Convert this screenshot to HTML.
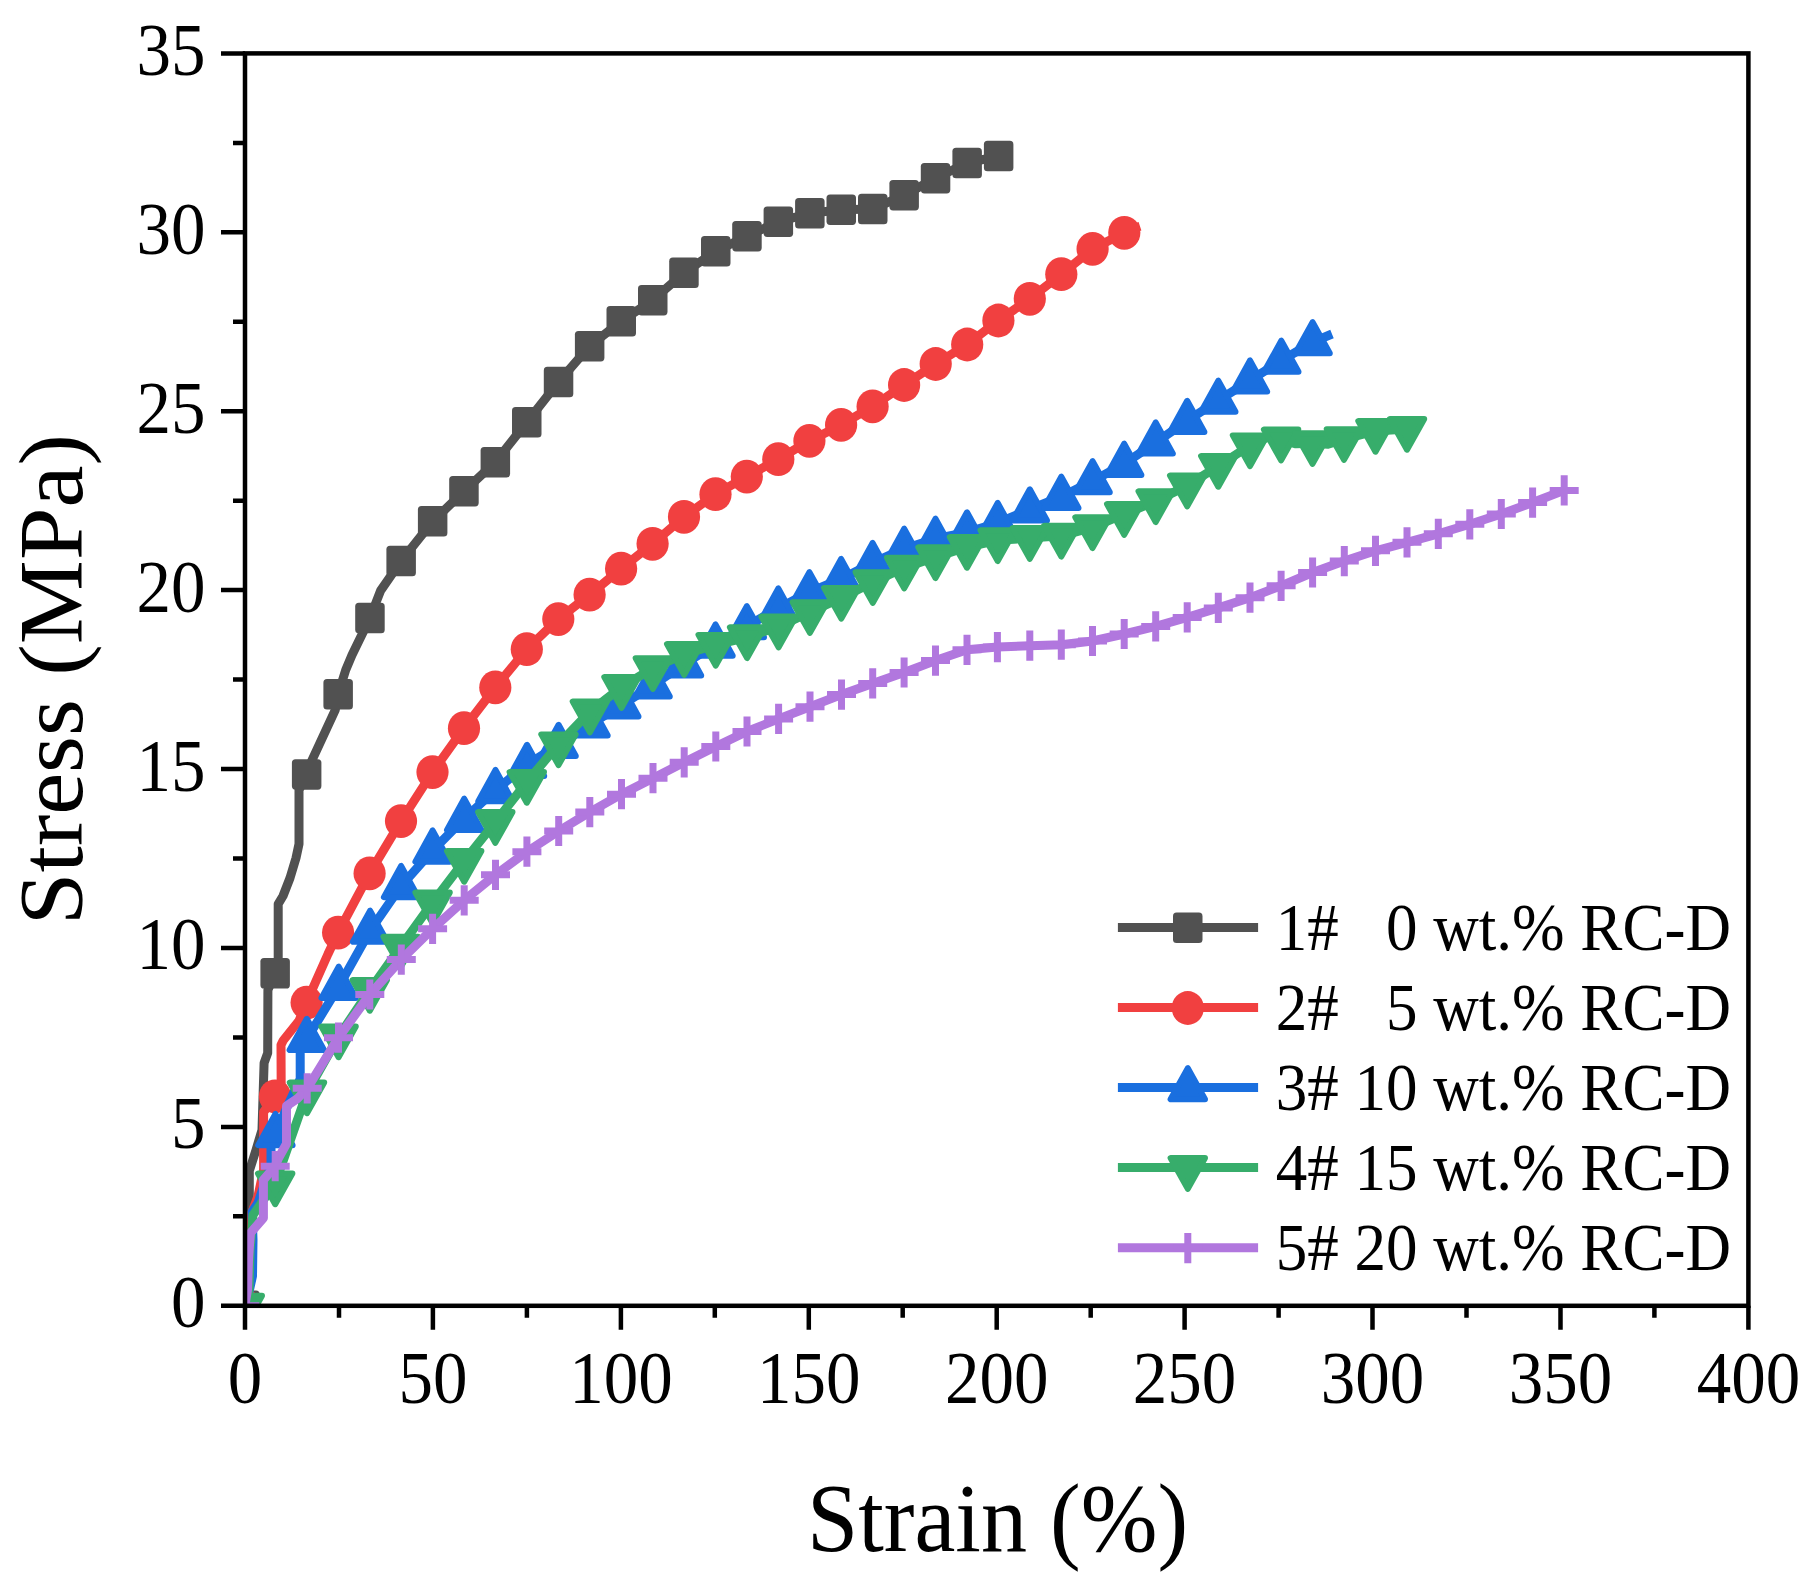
<!DOCTYPE html><html><head><meta charset="utf-8"><title>Stress-strain curves</title><style>html,body{margin:0;padding:0;background:#fff}svg{display:block}text{font-family:"Liberation Serif","Times New Roman",serif;fill:#000}</style></head><body>
<svg width="1815" height="1590" viewBox="0 0 1815 1590">
<rect width="1815" height="1590" fill="#fff"/>
<defs><clipPath id="pc"><rect x="245.0" y="53.4" width="1503.4" height="1252.4"/></clipPath></defs>
<g clip-path="url(#pc)">
<polyline points="244.8,1305.8 246.5,1290.0 249.3,1215.0 249.3,1171.0 256.0,1150.0 262.0,1130.0 264.1,1063.0 267.7,1053.0 267.9,990.0 275.2,973.2 278.2,958.0 278.2,904.0 283.0,896.0 290.0,878.0 296.0,858.0 299.0,844.0 299.0,790.0 306.6,774.5 311.7,760.8 335.3,709.8 338.1,694.4 345.7,670.0 352.0,655.0 370.0,618.0 380.6,590.6 401.1,561.0 432.7,521.4 464.0,491.2 495.3,462.1 526.7,422.4 558.5,382.0 589.6,346.1 621.2,321.3 652.7,300.2 684.0,272.8 715.7,251.3 747.0,236.2 778.4,221.7 809.9,213.3 841.3,209.7 872.7,209.1 904.1,195.2 935.5,178.2 967.1,163.0 998.6,156.1" fill="none" stroke="#515151" stroke-width="9.0" stroke-linejoin="round" stroke-linecap="butt"/>
<rect x="230.1" y="1290.5" width="29.5" height="30.5" rx="3.6" fill="#515151"/><rect x="260.4" y="958.0" width="29.5" height="30.5" rx="3.6" fill="#515151"/><rect x="291.9" y="759.2" width="29.5" height="30.5" rx="3.6" fill="#515151"/><rect x="323.4" y="679.1" width="29.5" height="30.5" rx="3.6" fill="#515151"/><rect x="355.2" y="602.8" width="29.5" height="30.5" rx="3.6" fill="#515151"/><rect x="386.4" y="545.8" width="29.5" height="30.5" rx="3.6" fill="#515151"/><rect x="417.9" y="506.1" width="29.5" height="30.5" rx="3.6" fill="#515151"/><rect x="449.2" y="475.9" width="29.5" height="30.5" rx="3.6" fill="#515151"/><rect x="480.6" y="446.9" width="29.5" height="30.5" rx="3.6" fill="#515151"/><rect x="512.0" y="407.1" width="29.5" height="30.5" rx="3.6" fill="#515151"/><rect x="543.8" y="366.8" width="29.5" height="30.5" rx="3.6" fill="#515151"/><rect x="574.9" y="330.9" width="29.5" height="30.5" rx="3.6" fill="#515151"/><rect x="606.5" y="306.1" width="29.5" height="30.5" rx="3.6" fill="#515151"/><rect x="638.0" y="284.9" width="29.5" height="30.5" rx="3.6" fill="#515151"/><rect x="669.2" y="257.6" width="29.5" height="30.5" rx="3.6" fill="#515151"/><rect x="701.0" y="236.1" width="29.5" height="30.5" rx="3.6" fill="#515151"/><rect x="732.2" y="220.9" width="29.5" height="30.5" rx="3.6" fill="#515151"/><rect x="763.6" y="206.4" width="29.5" height="30.5" rx="3.6" fill="#515151"/><rect x="795.1" y="198.1" width="29.5" height="30.5" rx="3.6" fill="#515151"/><rect x="826.5" y="194.4" width="29.5" height="30.5" rx="3.6" fill="#515151"/><rect x="858.0" y="193.8" width="29.5" height="30.5" rx="3.6" fill="#515151"/><rect x="889.4" y="179.9" width="29.5" height="30.5" rx="3.6" fill="#515151"/><rect x="920.8" y="162.9" width="29.5" height="30.5" rx="3.6" fill="#515151"/><rect x="952.4" y="147.8" width="29.5" height="30.5" rx="3.6" fill="#515151"/><rect x="983.9" y="140.8" width="29.5" height="30.5" rx="3.6" fill="#515151"/>
<polyline points="244.8,1305.8 248.0,1290.0 247.0,1230.0 252.0,1212.0 258.0,1196.0 263.6,1170.0 263.6,1112.0 275.0,1096.3 281.2,1090.0 281.0,1045.0 283.2,1040.5 289.0,1033.3 299.0,1020.8 306.6,1002.6 316.0,981.0 328.0,954.0 338.1,932.6 369.6,873.4 401.0,821.1 432.5,772.1 464.0,728.2 495.3,687.4 526.8,649.2 558.3,619.1 589.6,594.7 621.1,568.7 652.6,543.8 684.0,516.8 715.5,494.2 746.8,476.6 778.3,459.2 809.4,440.9 841.1,424.9 872.6,406.4 904.1,385.0 935.7,364.0 967.2,344.5 998.4,320.5 1029.8,298.8 1061.3,274.2 1092.6,248.9 1124.3,232.8 1133.0,228.5 1140.0,226.2" fill="none" stroke="#F14040" stroke-width="9.0" stroke-linejoin="round" stroke-linecap="butt"/>
<ellipse cx="244.8" cy="1305.8" rx="16.1" ry="16.9" fill="#F14040"/><ellipse cx="275.0" cy="1096.3" rx="16.1" ry="16.9" fill="#F14040"/><ellipse cx="306.6" cy="1002.6" rx="16.1" ry="16.9" fill="#F14040"/><ellipse cx="338.1" cy="932.6" rx="16.1" ry="16.9" fill="#F14040"/><ellipse cx="369.6" cy="873.4" rx="16.1" ry="16.9" fill="#F14040"/><ellipse cx="401.0" cy="821.1" rx="16.1" ry="16.9" fill="#F14040"/><ellipse cx="432.5" cy="772.1" rx="16.1" ry="16.9" fill="#F14040"/><ellipse cx="464.0" cy="728.2" rx="16.1" ry="16.9" fill="#F14040"/><ellipse cx="495.3" cy="687.4" rx="16.1" ry="16.9" fill="#F14040"/><ellipse cx="526.8" cy="649.2" rx="16.1" ry="16.9" fill="#F14040"/><ellipse cx="558.3" cy="619.1" rx="16.1" ry="16.9" fill="#F14040"/><ellipse cx="589.6" cy="594.7" rx="16.1" ry="16.9" fill="#F14040"/><ellipse cx="621.1" cy="568.7" rx="16.1" ry="16.9" fill="#F14040"/><ellipse cx="652.6" cy="543.8" rx="16.1" ry="16.9" fill="#F14040"/><ellipse cx="684.0" cy="516.8" rx="16.1" ry="16.9" fill="#F14040"/><ellipse cx="715.5" cy="494.2" rx="16.1" ry="16.9" fill="#F14040"/><ellipse cx="746.8" cy="476.6" rx="16.1" ry="16.9" fill="#F14040"/><ellipse cx="778.3" cy="459.2" rx="16.1" ry="16.9" fill="#F14040"/><ellipse cx="809.4" cy="440.9" rx="16.1" ry="16.9" fill="#F14040"/><ellipse cx="841.1" cy="424.9" rx="16.1" ry="16.9" fill="#F14040"/><ellipse cx="872.6" cy="406.4" rx="16.1" ry="16.9" fill="#F14040"/><ellipse cx="904.1" cy="385.0" rx="16.1" ry="16.9" fill="#F14040"/><ellipse cx="935.7" cy="364.0" rx="16.1" ry="16.9" fill="#F14040"/><ellipse cx="967.2" cy="344.5" rx="16.1" ry="16.9" fill="#F14040"/><ellipse cx="998.4" cy="320.5" rx="16.1" ry="16.9" fill="#F14040"/><ellipse cx="1029.8" cy="298.8" rx="16.1" ry="16.9" fill="#F14040"/><ellipse cx="1061.3" cy="274.2" rx="16.1" ry="16.9" fill="#F14040"/><ellipse cx="1092.6" cy="248.9" rx="16.1" ry="16.9" fill="#F14040"/><ellipse cx="1124.3" cy="232.8" rx="16.1" ry="16.9" fill="#F14040"/>
<polyline points="244.8,1305.8 249.0,1292.0 252.5,1276.0 253.0,1240.0 252.0,1212.0 258.0,1203.0 271.0,1165.0 271.0,1147.0 275.4,1134.0 288.0,1105.0 300.2,1079.0 300.2,1052.0 306.8,1038.8 338.7,986.7 370.1,930.6 401.1,886.0 432.6,850.5 464.2,818.7 495.5,790.0 527.0,764.8 558.6,744.8 590.5,724.2 621.3,705.3 652.6,685.3 684.0,664.3 715.5,644.5 746.8,626.1 778.3,608.5 809.4,592.1 841.1,578.9 872.6,562.9 904.2,548.7 935.5,538.7 967.0,532.3 997.7,523.0 1029.8,509.3 1061.3,496.7 1092.6,481.1 1124.2,463.7 1155.7,442.4 1187.2,420.8 1218.3,400.6 1250.0,380.4 1281.3,360.6 1312.6,342.1 1332.0,334.0" fill="none" stroke="#1A6FDF" stroke-width="9.0" stroke-linejoin="round" stroke-linecap="butt"/>
<polygon points="244.8,1285.8 227.6,1317.0 262.0,1317.0" fill="#1A6FDF" stroke="#1A6FDF" stroke-width="6" stroke-linejoin="round"/><polygon points="275.4,1114.0 258.2,1145.2 292.6,1145.2" fill="#1A6FDF" stroke="#1A6FDF" stroke-width="6" stroke-linejoin="round"/><polygon points="306.8,1018.8 289.6,1050.0 324.0,1050.0" fill="#1A6FDF" stroke="#1A6FDF" stroke-width="6" stroke-linejoin="round"/><polygon points="338.7,966.7 321.5,997.9 355.9,997.9" fill="#1A6FDF" stroke="#1A6FDF" stroke-width="6" stroke-linejoin="round"/><polygon points="370.1,910.6 352.9,941.8 387.3,941.8" fill="#1A6FDF" stroke="#1A6FDF" stroke-width="6" stroke-linejoin="round"/><polygon points="401.1,866.0 383.9,897.2 418.3,897.2" fill="#1A6FDF" stroke="#1A6FDF" stroke-width="6" stroke-linejoin="round"/><polygon points="432.6,830.5 415.4,861.7 449.8,861.7" fill="#1A6FDF" stroke="#1A6FDF" stroke-width="6" stroke-linejoin="round"/><polygon points="464.2,798.7 447.0,829.9 481.4,829.9" fill="#1A6FDF" stroke="#1A6FDF" stroke-width="6" stroke-linejoin="round"/><polygon points="495.5,770.0 478.3,801.2 512.7,801.2" fill="#1A6FDF" stroke="#1A6FDF" stroke-width="6" stroke-linejoin="round"/><polygon points="527.0,744.8 509.8,776.0 544.2,776.0" fill="#1A6FDF" stroke="#1A6FDF" stroke-width="6" stroke-linejoin="round"/><polygon points="558.6,724.8 541.4,756.0 575.8,756.0" fill="#1A6FDF" stroke="#1A6FDF" stroke-width="6" stroke-linejoin="round"/><polygon points="590.5,704.2 573.3,735.4 607.7,735.4" fill="#1A6FDF" stroke="#1A6FDF" stroke-width="6" stroke-linejoin="round"/><polygon points="621.3,685.3 604.1,716.5 638.5,716.5" fill="#1A6FDF" stroke="#1A6FDF" stroke-width="6" stroke-linejoin="round"/><polygon points="652.6,665.3 635.4,696.5 669.8,696.5" fill="#1A6FDF" stroke="#1A6FDF" stroke-width="6" stroke-linejoin="round"/><polygon points="684.0,644.3 666.8,675.5 701.2,675.5" fill="#1A6FDF" stroke="#1A6FDF" stroke-width="6" stroke-linejoin="round"/><polygon points="715.5,624.5 698.3,655.7 732.7,655.7" fill="#1A6FDF" stroke="#1A6FDF" stroke-width="6" stroke-linejoin="round"/><polygon points="746.8,606.1 729.6,637.3 764.0,637.3" fill="#1A6FDF" stroke="#1A6FDF" stroke-width="6" stroke-linejoin="round"/><polygon points="778.3,588.5 761.1,619.7 795.5,619.7" fill="#1A6FDF" stroke="#1A6FDF" stroke-width="6" stroke-linejoin="round"/><polygon points="809.4,572.1 792.2,603.3 826.6,603.3" fill="#1A6FDF" stroke="#1A6FDF" stroke-width="6" stroke-linejoin="round"/><polygon points="841.1,558.9 823.9,590.1 858.3,590.1" fill="#1A6FDF" stroke="#1A6FDF" stroke-width="6" stroke-linejoin="round"/><polygon points="872.6,542.9 855.4,574.1 889.8,574.1" fill="#1A6FDF" stroke="#1A6FDF" stroke-width="6" stroke-linejoin="round"/><polygon points="904.2,528.7 887.0,559.9 921.4,559.9" fill="#1A6FDF" stroke="#1A6FDF" stroke-width="6" stroke-linejoin="round"/><polygon points="935.5,518.7 918.3,549.9 952.7,549.9" fill="#1A6FDF" stroke="#1A6FDF" stroke-width="6" stroke-linejoin="round"/><polygon points="967.0,512.3 949.8,543.5 984.2,543.5" fill="#1A6FDF" stroke="#1A6FDF" stroke-width="6" stroke-linejoin="round"/><polygon points="997.7,503.0 980.5,534.2 1014.9,534.2" fill="#1A6FDF" stroke="#1A6FDF" stroke-width="6" stroke-linejoin="round"/><polygon points="1029.8,489.3 1012.6,520.5 1047.0,520.5" fill="#1A6FDF" stroke="#1A6FDF" stroke-width="6" stroke-linejoin="round"/><polygon points="1061.3,476.7 1044.1,507.9 1078.5,507.9" fill="#1A6FDF" stroke="#1A6FDF" stroke-width="6" stroke-linejoin="round"/><polygon points="1092.6,461.1 1075.4,492.3 1109.8,492.3" fill="#1A6FDF" stroke="#1A6FDF" stroke-width="6" stroke-linejoin="round"/><polygon points="1124.2,443.7 1107.0,474.9 1141.4,474.9" fill="#1A6FDF" stroke="#1A6FDF" stroke-width="6" stroke-linejoin="round"/><polygon points="1155.7,422.4 1138.5,453.6 1172.9,453.6" fill="#1A6FDF" stroke="#1A6FDF" stroke-width="6" stroke-linejoin="round"/><polygon points="1187.2,400.8 1170.0,432.0 1204.4,432.0" fill="#1A6FDF" stroke="#1A6FDF" stroke-width="6" stroke-linejoin="round"/><polygon points="1218.3,380.6 1201.1,411.8 1235.5,411.8" fill="#1A6FDF" stroke="#1A6FDF" stroke-width="6" stroke-linejoin="round"/><polygon points="1250.0,360.4 1232.8,391.6 1267.2,391.6" fill="#1A6FDF" stroke="#1A6FDF" stroke-width="6" stroke-linejoin="round"/><polygon points="1281.3,340.6 1264.1,371.8 1298.5,371.8" fill="#1A6FDF" stroke="#1A6FDF" stroke-width="6" stroke-linejoin="round"/><polygon points="1312.6,322.1 1295.4,353.3 1329.8,353.3" fill="#1A6FDF" stroke="#1A6FDF" stroke-width="6" stroke-linejoin="round"/>
<polyline points="244.8,1305.8 249.0,1290.0 250.0,1250.0 253.0,1215.0 262.0,1202.0 275.2,1183.5 307.0,1092.5 338.6,1036.5 369.8,990.0 400.7,946.7 432.6,902.5 464.2,861.0 495.3,822.1 526.8,782.0 558.5,744.4 589.9,711.6 621.5,687.1 652.9,668.2 684.2,654.1 715.7,644.9 747.1,637.3 778.6,626.6 809.9,612.2 841.3,597.9 872.8,582.2 904.2,567.7 935.5,557.3 967.0,547.0 997.7,540.3 1029.8,538.1 1061.3,535.8 1092.5,527.3 1124.2,514.1 1155.7,501.3 1187.2,485.6 1218.3,466.0 1250.0,445.4 1267.0,437.5 1281.1,439.6 1296.0,443.8 1312.5,443.2 1328.0,444.2 1344.0,439.2 1375.5,431.0 1407.0,429.0" fill="none" stroke="#37AD6B" stroke-width="9.0" stroke-linejoin="round" stroke-linecap="butt"/>
<polygon points="244.8,1326.5 227.6,1295.8 262.0,1295.8" fill="#37AD6B" stroke="#37AD6B" stroke-width="6" stroke-linejoin="round"/><polygon points="275.2,1204.2 258.0,1173.5 292.4,1173.5" fill="#37AD6B" stroke="#37AD6B" stroke-width="6" stroke-linejoin="round"/><polygon points="307.0,1113.2 289.8,1082.5 324.2,1082.5" fill="#37AD6B" stroke="#37AD6B" stroke-width="6" stroke-linejoin="round"/><polygon points="338.6,1057.2 321.4,1026.5 355.8,1026.5" fill="#37AD6B" stroke="#37AD6B" stroke-width="6" stroke-linejoin="round"/><polygon points="369.8,1010.7 352.6,980.0 387.0,980.0" fill="#37AD6B" stroke="#37AD6B" stroke-width="6" stroke-linejoin="round"/><polygon points="400.7,967.4 383.5,936.7 417.9,936.7" fill="#37AD6B" stroke="#37AD6B" stroke-width="6" stroke-linejoin="round"/><polygon points="432.6,923.2 415.4,892.5 449.8,892.5" fill="#37AD6B" stroke="#37AD6B" stroke-width="6" stroke-linejoin="round"/><polygon points="464.2,881.7 447.0,851.0 481.4,851.0" fill="#37AD6B" stroke="#37AD6B" stroke-width="6" stroke-linejoin="round"/><polygon points="495.3,842.8 478.1,812.1 512.5,812.1" fill="#37AD6B" stroke="#37AD6B" stroke-width="6" stroke-linejoin="round"/><polygon points="526.8,802.7 509.6,772.0 544.0,772.0" fill="#37AD6B" stroke="#37AD6B" stroke-width="6" stroke-linejoin="round"/><polygon points="558.5,765.1 541.3,734.4 575.7,734.4" fill="#37AD6B" stroke="#37AD6B" stroke-width="6" stroke-linejoin="round"/><polygon points="589.9,732.3 572.7,701.6 607.1,701.6" fill="#37AD6B" stroke="#37AD6B" stroke-width="6" stroke-linejoin="round"/><polygon points="621.5,707.8 604.3,677.1 638.7,677.1" fill="#37AD6B" stroke="#37AD6B" stroke-width="6" stroke-linejoin="round"/><polygon points="652.9,688.9 635.7,658.2 670.1,658.2" fill="#37AD6B" stroke="#37AD6B" stroke-width="6" stroke-linejoin="round"/><polygon points="684.2,674.8 667.0,644.1 701.4,644.1" fill="#37AD6B" stroke="#37AD6B" stroke-width="6" stroke-linejoin="round"/><polygon points="715.7,665.6 698.5,634.9 732.9,634.9" fill="#37AD6B" stroke="#37AD6B" stroke-width="6" stroke-linejoin="round"/><polygon points="747.1,658.0 729.9,627.3 764.3,627.3" fill="#37AD6B" stroke="#37AD6B" stroke-width="6" stroke-linejoin="round"/><polygon points="778.6,647.3 761.4,616.6 795.8,616.6" fill="#37AD6B" stroke="#37AD6B" stroke-width="6" stroke-linejoin="round"/><polygon points="809.9,632.9 792.7,602.2 827.1,602.2" fill="#37AD6B" stroke="#37AD6B" stroke-width="6" stroke-linejoin="round"/><polygon points="841.3,618.6 824.1,587.9 858.5,587.9" fill="#37AD6B" stroke="#37AD6B" stroke-width="6" stroke-linejoin="round"/><polygon points="872.8,602.9 855.6,572.2 890.0,572.2" fill="#37AD6B" stroke="#37AD6B" stroke-width="6" stroke-linejoin="round"/><polygon points="904.2,588.4 887.0,557.7 921.4,557.7" fill="#37AD6B" stroke="#37AD6B" stroke-width="6" stroke-linejoin="round"/><polygon points="935.5,578.0 918.3,547.3 952.7,547.3" fill="#37AD6B" stroke="#37AD6B" stroke-width="6" stroke-linejoin="round"/><polygon points="967.0,567.7 949.8,537.0 984.2,537.0" fill="#37AD6B" stroke="#37AD6B" stroke-width="6" stroke-linejoin="round"/><polygon points="997.7,561.0 980.5,530.3 1014.9,530.3" fill="#37AD6B" stroke="#37AD6B" stroke-width="6" stroke-linejoin="round"/><polygon points="1029.8,558.8 1012.6,528.1 1047.0,528.1" fill="#37AD6B" stroke="#37AD6B" stroke-width="6" stroke-linejoin="round"/><polygon points="1061.3,556.5 1044.1,525.8 1078.5,525.8" fill="#37AD6B" stroke="#37AD6B" stroke-width="6" stroke-linejoin="round"/><polygon points="1092.5,548.0 1075.3,517.3 1109.7,517.3" fill="#37AD6B" stroke="#37AD6B" stroke-width="6" stroke-linejoin="round"/><polygon points="1124.2,534.8 1107.0,504.1 1141.4,504.1" fill="#37AD6B" stroke="#37AD6B" stroke-width="6" stroke-linejoin="round"/><polygon points="1155.7,522.0 1138.5,491.3 1172.9,491.3" fill="#37AD6B" stroke="#37AD6B" stroke-width="6" stroke-linejoin="round"/><polygon points="1187.2,506.3 1170.0,475.6 1204.4,475.6" fill="#37AD6B" stroke="#37AD6B" stroke-width="6" stroke-linejoin="round"/><polygon points="1218.3,486.7 1201.1,456.0 1235.5,456.0" fill="#37AD6B" stroke="#37AD6B" stroke-width="6" stroke-linejoin="round"/><polygon points="1250.0,466.1 1232.8,435.4 1267.2,435.4" fill="#37AD6B" stroke="#37AD6B" stroke-width="6" stroke-linejoin="round"/><polygon points="1281.1,460.3 1263.9,429.6 1298.3,429.6" fill="#37AD6B" stroke="#37AD6B" stroke-width="6" stroke-linejoin="round"/><polygon points="1312.5,463.9 1295.3,433.2 1329.7,433.2" fill="#37AD6B" stroke="#37AD6B" stroke-width="6" stroke-linejoin="round"/><polygon points="1344.0,459.9 1326.8,429.2 1361.2,429.2" fill="#37AD6B" stroke="#37AD6B" stroke-width="6" stroke-linejoin="round"/><polygon points="1375.5,451.7 1358.3,421.0 1392.7,421.0" fill="#37AD6B" stroke="#37AD6B" stroke-width="6" stroke-linejoin="round"/><polygon points="1407.0,449.7 1389.8,419.0 1424.2,419.0" fill="#37AD6B" stroke="#37AD6B" stroke-width="6" stroke-linejoin="round"/>
<polyline points="244.8,1305.8 247.5,1290.0 248.5,1260.0 249.5,1245.0 250.5,1233.0 263.4,1218.0 263.4,1180.0 275.2,1166.2 278.3,1158.5 286.5,1143.8 286.5,1106.0 297.6,1098.5 307.2,1088.3 338.5,1037.7 369.8,994.5 401.3,959.6 432.6,928.8 464.2,900.3 495.5,874.8 526.9,851.7 558.7,831.0 589.8,812.1 621.5,794.2 653.0,778.2 684.2,762.3 715.8,746.5 747.0,731.5 778.6,718.9 810.0,706.7 841.5,694.6 872.7,683.4 904.1,672.5 935.5,660.6 967.0,649.8 997.4,647.1 1029.8,645.7 1061.3,644.7 1092.5,641.0 1124.2,634.0 1155.7,626.4 1187.2,617.4 1218.3,607.9 1250.0,597.7 1281.1,585.8 1312.6,572.5 1344.3,561.1 1375.5,550.8 1407.0,542.3 1438.3,533.8 1469.8,524.3 1501.3,514.0 1532.6,502.6 1564.2,490.4" fill="none" stroke="#B177DE" stroke-width="9.0" stroke-linejoin="round" stroke-linecap="butt"/>
<path d="M230.3 1305.8h29M244.8 1290.7v30.2" stroke="#B177DE" stroke-width="7" fill="none"/><path d="M260.7 1166.2h29M275.2 1151.1v30.2" stroke="#B177DE" stroke-width="7" fill="none"/><path d="M292.7 1088.3h29M307.2 1073.2v30.2" stroke="#B177DE" stroke-width="7" fill="none"/><path d="M324.0 1037.7h29M338.5 1022.6v30.2" stroke="#B177DE" stroke-width="7" fill="none"/><path d="M355.3 994.5h29M369.8 979.4v30.2" stroke="#B177DE" stroke-width="7" fill="none"/><path d="M386.8 959.6h29M401.3 944.5v30.2" stroke="#B177DE" stroke-width="7" fill="none"/><path d="M418.1 928.8h29M432.6 913.7v30.2" stroke="#B177DE" stroke-width="7" fill="none"/><path d="M449.7 900.3h29M464.2 885.2v30.2" stroke="#B177DE" stroke-width="7" fill="none"/><path d="M481.0 874.8h29M495.5 859.7v30.2" stroke="#B177DE" stroke-width="7" fill="none"/><path d="M512.4 851.7h29M526.9 836.6v30.2" stroke="#B177DE" stroke-width="7" fill="none"/><path d="M544.2 831.0h29M558.7 815.9v30.2" stroke="#B177DE" stroke-width="7" fill="none"/><path d="M575.3 812.1h29M589.8 797.0v30.2" stroke="#B177DE" stroke-width="7" fill="none"/><path d="M607.0 794.2h29M621.5 779.1v30.2" stroke="#B177DE" stroke-width="7" fill="none"/><path d="M638.5 778.2h29M653.0 763.1v30.2" stroke="#B177DE" stroke-width="7" fill="none"/><path d="M669.7 762.3h29M684.2 747.2v30.2" stroke="#B177DE" stroke-width="7" fill="none"/><path d="M701.3 746.5h29M715.8 731.4v30.2" stroke="#B177DE" stroke-width="7" fill="none"/><path d="M732.5 731.5h29M747.0 716.4v30.2" stroke="#B177DE" stroke-width="7" fill="none"/><path d="M764.1 718.9h29M778.6 703.8v30.2" stroke="#B177DE" stroke-width="7" fill="none"/><path d="M795.5 706.7h29M810.0 691.6v30.2" stroke="#B177DE" stroke-width="7" fill="none"/><path d="M827.0 694.6h29M841.5 679.5v30.2" stroke="#B177DE" stroke-width="7" fill="none"/><path d="M858.2 683.4h29M872.7 668.3v30.2" stroke="#B177DE" stroke-width="7" fill="none"/><path d="M889.6 672.5h29M904.1 657.4v30.2" stroke="#B177DE" stroke-width="7" fill="none"/><path d="M921.0 660.6h29M935.5 645.5v30.2" stroke="#B177DE" stroke-width="7" fill="none"/><path d="M952.5 649.8h29M967.0 634.7v30.2" stroke="#B177DE" stroke-width="7" fill="none"/><path d="M982.9 647.1h29M997.4 632.0v30.2" stroke="#B177DE" stroke-width="7" fill="none"/><path d="M1015.3 645.7h29M1029.8 630.6v30.2" stroke="#B177DE" stroke-width="7" fill="none"/><path d="M1046.8 644.7h29M1061.3 629.6v30.2" stroke="#B177DE" stroke-width="7" fill="none"/><path d="M1078.0 641.0h29M1092.5 625.9v30.2" stroke="#B177DE" stroke-width="7" fill="none"/><path d="M1109.7 634.0h29M1124.2 618.9v30.2" stroke="#B177DE" stroke-width="7" fill="none"/><path d="M1141.2 626.4h29M1155.7 611.3v30.2" stroke="#B177DE" stroke-width="7" fill="none"/><path d="M1172.7 617.4h29M1187.2 602.3v30.2" stroke="#B177DE" stroke-width="7" fill="none"/><path d="M1203.8 607.9h29M1218.3 592.8v30.2" stroke="#B177DE" stroke-width="7" fill="none"/><path d="M1235.5 597.7h29M1250.0 582.6v30.2" stroke="#B177DE" stroke-width="7" fill="none"/><path d="M1266.6 585.8h29M1281.1 570.7v30.2" stroke="#B177DE" stroke-width="7" fill="none"/><path d="M1298.1 572.5h29M1312.6 557.4v30.2" stroke="#B177DE" stroke-width="7" fill="none"/><path d="M1329.8 561.1h29M1344.3 546.0v30.2" stroke="#B177DE" stroke-width="7" fill="none"/><path d="M1361.0 550.8h29M1375.5 535.7v30.2" stroke="#B177DE" stroke-width="7" fill="none"/><path d="M1392.5 542.3h29M1407.0 527.2v30.2" stroke="#B177DE" stroke-width="7" fill="none"/><path d="M1423.8 533.8h29M1438.3 518.7v30.2" stroke="#B177DE" stroke-width="7" fill="none"/><path d="M1455.3 524.3h29M1469.8 509.2v30.2" stroke="#B177DE" stroke-width="7" fill="none"/><path d="M1486.8 514.0h29M1501.3 498.9v30.2" stroke="#B177DE" stroke-width="7" fill="none"/><path d="M1518.1 502.6h29M1532.6 487.5v30.2" stroke="#B177DE" stroke-width="7" fill="none"/><path d="M1549.7 490.4h29M1564.2 475.3v30.2" stroke="#B177DE" stroke-width="7" fill="none"/>
</g>
<rect x="245.0" y="53.4" width="1503.4" height="1252.4" fill="none" stroke="#000" stroke-width="4.5"/>
<path d="M245.0 1305.8H221.0M245.0 1126.9H221.0M245.0 948.0H221.0M245.0 769.1H221.0M245.0 590.1H221.0M245.0 411.2H221.0M245.0 232.3H221.0M245.0 53.4H221.0M245.0 1216.3H233.0M245.0 1037.4H233.0M245.0 858.5H233.0M245.0 679.6H233.0M245.0 500.7H233.0M245.0 321.8H233.0M245.0 142.9H233.0M245.0 1305.8V1329.8M432.9 1305.8V1329.8M620.9 1305.8V1329.8M808.8 1305.8V1329.8M996.7 1305.8V1329.8M1184.6 1305.8V1329.8M1372.5 1305.8V1329.8M1560.5 1305.8V1329.8M1748.4 1305.8V1329.8M339.0 1305.8V1317.8M526.9 1305.8V1317.8M714.8 1305.8V1317.8M902.7 1305.8V1317.8M1090.7 1305.8V1317.8M1278.6 1305.8V1317.8M1466.5 1305.8V1317.8M1654.4 1305.8V1317.8" stroke="#000" stroke-width="4.5" fill="none"/>
<text transform="translate(205.5 1327.2) scale(0.945 1)" font-size="73" text-anchor="end">0</text>
<text transform="translate(205.5 1148.3) scale(0.945 1)" font-size="73" text-anchor="end">5</text>
<text transform="translate(205.5 969.4) scale(0.945 1)" font-size="73" text-anchor="end">10</text>
<text transform="translate(205.5 790.5) scale(0.945 1)" font-size="73" text-anchor="end">15</text>
<text transform="translate(205.5 611.5) scale(0.945 1)" font-size="73" text-anchor="end">20</text>
<text transform="translate(205.5 432.6) scale(0.945 1)" font-size="73" text-anchor="end">25</text>
<text transform="translate(205.5 253.7) scale(0.945 1)" font-size="73" text-anchor="end">30</text>
<text transform="translate(205.5 74.8) scale(0.945 1)" font-size="73" text-anchor="end">35</text>
<text transform="translate(245.0 1403.0) scale(0.945 1)" font-size="73" text-anchor="middle">0</text>
<text transform="translate(432.9 1403.0) scale(0.945 1)" font-size="73" text-anchor="middle">50</text>
<text transform="translate(620.9 1403.0) scale(0.945 1)" font-size="73" text-anchor="middle">100</text>
<text transform="translate(808.8 1403.0) scale(0.945 1)" font-size="73" text-anchor="middle">150</text>
<text transform="translate(996.7 1403.0) scale(0.945 1)" font-size="73" text-anchor="middle">200</text>
<text transform="translate(1184.6 1403.0) scale(0.945 1)" font-size="73" text-anchor="middle">250</text>
<text transform="translate(1372.5 1403.0) scale(0.945 1)" font-size="73" text-anchor="middle">300</text>
<text transform="translate(1560.5 1403.0) scale(0.945 1)" font-size="73" text-anchor="middle">350</text>
<text transform="translate(1748.4 1403.0) scale(0.945 1)" font-size="73" text-anchor="middle">400</text>
<text transform="translate(997.5 1550.6) scale(0.94 1)" font-size="98" text-anchor="middle">Strain (%)</text>
<text transform="translate(82.0 679.6) rotate(-90) scale(0.965 0.935)" font-size="98" text-anchor="middle">Stress (MPa)</text>
<path d="M1117.9 927.4H1258.1" stroke="#515151" stroke-width="9"/>
<rect x="1173.0" y="912.6" width="29.5" height="30.5" rx="3.6" fill="#515151"/>
<text transform="translate(1275.8 949.6) scale(0.927 1)" font-size="68" xml:space="preserve">1#   0 wt.% RC-D</text>
<path d="M1117.9 1007.5H1258.1" stroke="#F14040" stroke-width="9"/>
<ellipse cx="1187.8" cy="1008.0" rx="16.1" ry="16.9" fill="#F14040"/>
<text transform="translate(1275.8 1029.7) scale(0.927 1)" font-size="68" xml:space="preserve">2#   5 wt.% RC-D</text>
<path d="M1117.9 1087.6H1258.1" stroke="#1A6FDF" stroke-width="9"/>
<polygon points="1187.8,1068.1 1170.6,1099.3 1205.0,1099.3" fill="#1A6FDF" stroke="#1A6FDF" stroke-width="6" stroke-linejoin="round"/>
<text transform="translate(1275.8 1109.8) scale(0.927 1)" font-size="68" xml:space="preserve">3# 10 wt.% RC-D</text>
<path d="M1117.9 1167.6H1258.1" stroke="#37AD6B" stroke-width="9"/>
<polygon points="1187.8,1188.8 1170.6,1158.1 1205.0,1158.1" fill="#37AD6B" stroke="#37AD6B" stroke-width="6" stroke-linejoin="round"/>
<text transform="translate(1275.8 1189.8) scale(0.927 1)" font-size="68" xml:space="preserve">4# 15 wt.% RC-D</text>
<path d="M1117.9 1247.7H1258.1" stroke="#B177DE" stroke-width="9"/>
<path d="M1173.3 1248.2h29M1187.8 1233.1v30.2" stroke="#B177DE" stroke-width="7" fill="none"/>
<text transform="translate(1275.8 1269.9) scale(0.927 1)" font-size="68" xml:space="preserve">5# 20 wt.% RC-D</text>
</svg></body></html>
